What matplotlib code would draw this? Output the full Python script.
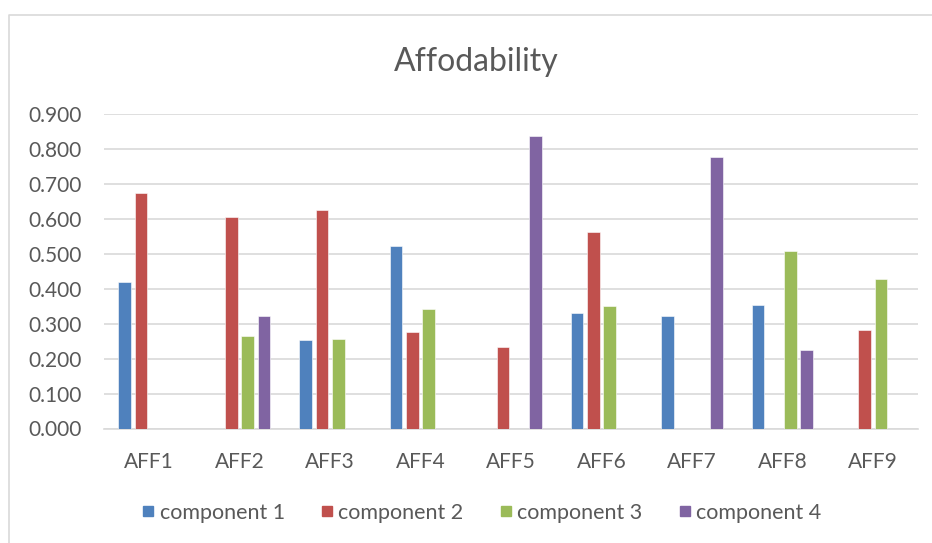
import numpy as np
import matplotlib
matplotlib.use("Agg")
import matplotlib.pyplot as plt
from matplotlib.lines import Line2D

categories = ["AFF1", "AFF2", "AFF3", "AFF4", "AFF5", "AFF6", "AFF7", "AFF8", "AFF9"]
series_names = ["component 1", "component 2", "component 3", "component 4"]
component_1 = [0.418, np.nan, 0.254, 0.521, np.nan, 0.330, 0.321, 0.353, np.nan]
component_2 = [0.674, 0.605, 0.624, 0.276, 0.233, 0.561, np.nan, np.nan, 0.281]
component_3 = [np.nan, 0.264, 0.255, 0.341, np.nan, 0.351, np.nan, 0.508, 0.429]
component_4 = [np.nan, 0.322, np.nan, np.nan, 0.837, np.nan, 0.776, 0.226, np.nan]
y_ticks = [0.0, 0.1, 0.2, 0.3, 0.4, 0.5, 0.6, 0.7, 0.8, 0.9]

colors = ["#4f81bd", "#c0504d", "#9bbb59", "#8064a2"]
text_color = "#595959"
grid_color = "#d9d9d9"

plt.rcParams["font.family"] = ["Lato", "DejaVu Sans"]

fig = plt.figure(figsize=(9.32, 5.43), dpi=100)
ax = fig.add_axes([104 / 932, 114.5 / 543, (918 - 104) / 932, (429 - 114.5) / 543])

x = np.arange(len(categories))
pitch = 0.18
bar_w = 0.14
all_series = [component_1, component_2, component_3, component_4]
for i, (vals, c) in enumerate(zip(all_series, colors)):
    ax.bar(x + (i - 1.5) * pitch, vals, width=bar_w, color=c,
           edgecolor="white", linewidth=0.4, zorder=3)

ax.set_xlim(-0.5, len(categories) - 0.5)
ax.set_ylim(0, 0.9)
ax.set_yticks(y_ticks)
ax.set_yticklabels([f"{v:.3f}" for v in y_ticks])
ax.set_xticks(x)
ax.set_xticklabels(categories)
ax.tick_params(axis="both", length=0, labelsize=15, colors=text_color)
ax.tick_params(axis="y", pad=16)
ax.tick_params(axis="x", pad=17)
ax.yaxis.grid(True, color=grid_color, linewidth=1.2, zorder=0)
for s in ["left", "right", "top"]:
    ax.spines[s].set_visible(False)
ax.spines["bottom"].set_color(grid_color)
ax.spines["bottom"].set_linewidth(1.2)

fig.text(476 / 932, 1 - 62 / 543, "Affodability", ha="center", va="center",
         fontsize=23, color=text_color)

handles = [Line2D([], [], marker="s", linestyle="none", markersize=7.5,
                  markerfacecolor=c, markeredgecolor=c) for c in colors]
leg = fig.legend(handles, series_names, loc="center", ncol=4,
                 bbox_to_anchor=(482 / 932, 1 - 513 / 543), frameon=False,
                 fontsize=15.5, handlelength=0.5, handletextpad=0.3,
                 columnspacing=1.7, labelcolor=text_color)

# outer chart frame
fig.add_artist(Line2D([9 / 932, 9 / 932, 1.0], [0.0, 1 - 15 / 543, 1 - 15 / 543],
                      transform=fig.transFigure, color=grid_color, linewidth=1.2))

fig.savefig("out.png", dpi=100)
